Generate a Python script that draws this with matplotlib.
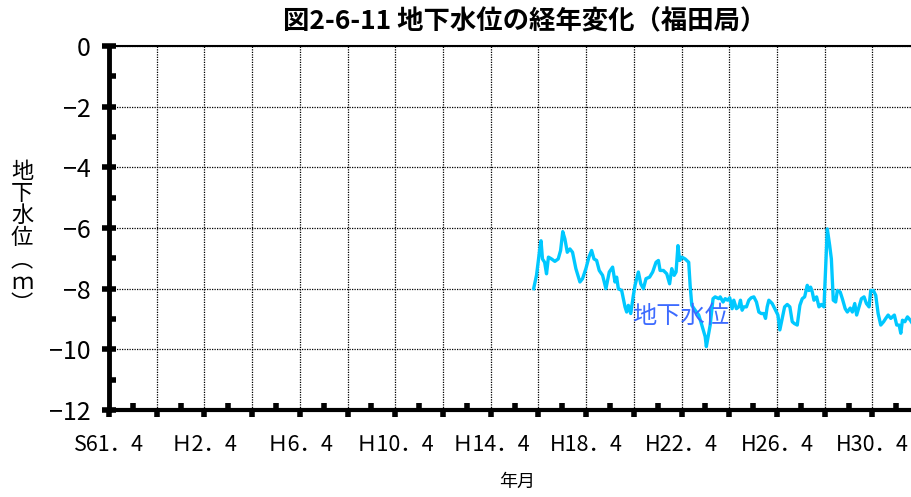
import matplotlib
matplotlib.use("Agg")
import matplotlib.pyplot as plt
import numpy as np

plt.rcParams['font.family'] = ['Noto Sans CJK JP', 'DejaVu Sans']

# 地下水位 (m), x = decimal year
years = [2004.05, 2004.17, 2004.30, 2004.36, 2004.42, 2004.51, 2004.59, 2004.67, 2004.80, 2004.94,
         2005.08, 2005.18, 2005.27, 2005.36, 2005.46, 2005.57, 2005.68, 2005.82, 2005.99, 2006.10,
         2006.24, 2006.37, 2006.48, 2006.58, 2006.69, 2006.80, 2006.94, 2007.08, 2007.22, 2007.36,
         2007.46, 2007.53, 2007.60, 2007.74, 2007.81, 2007.88, 2007.95, 2008.02, 2008.12, 2008.23,
         2008.30, 2008.44, 2008.54, 2008.65, 2008.76, 2008.91, 2009.04, 2009.18, 2009.28, 2009.35,
         2009.49, 2009.63, 2009.75, 2009.84, 2009.94, 2010.02, 2010.10, 2010.17, 2010.26, 2010.40,
         2010.55, 2010.61, 2010.68, 2010.82, 2010.97, 2011.10, 2011.24, 2011.29, 2011.36, 2011.45,
         2011.57, 2011.66, 2011.81, 2011.87, 2011.99, 2012.08, 2012.18, 2012.27, 2012.37, 2012.44,
         2012.55, 2012.65, 2012.72, 2012.79, 2012.86, 2012.97, 2013.07, 2013.17, 2013.28, 2013.39,
         2013.49, 2013.59, 2013.70, 2013.77, 2013.84, 2013.91, 2014.05, 2014.19, 2014.29, 2014.37,
         2014.47, 2014.57, 2014.68, 2014.79, 2014.89, 2014.98, 2015.10, 2015.21, 2015.31, 2015.41,
         2015.52, 2015.59, 2015.66, 2015.73, 2015.80, 2015.91, 2016.01, 2016.11, 2016.22, 2016.29,
         2016.36, 2016.46, 2016.53, 2016.61, 2016.71, 2016.78, 2016.90, 2016.99, 2017.11, 2017.20,
         2017.32, 2017.41, 2017.51, 2017.59, 2017.69, 2017.79, 2017.90, 2018.00, 2018.11, 2018.18,
         2018.29, 2018.39, 2018.49, 2018.60, 2018.72, 2018.81, 2018.91, 2019.02, 2019.17, 2019.27,
         2019.37, 2019.44, 2019.51, 2019.61, 2019.72, 2019.84, 2019.95, 2020.05]
level = [-8.00, -7.56, -6.74, -6.42, -7.02, -7.13, -7.51, -6.96, -7.02, -7.10,
         -7.02, -6.74, -6.12, -6.36, -6.80, -6.69, -6.80, -7.34, -7.78, -7.67,
         -7.34, -6.96, -6.74, -7.02, -7.07, -7.40, -7.56, -8.00, -7.45, -7.29,
         -7.78, -7.62, -8.00, -8.06, -8.33, -8.60, -8.77, -8.55, -8.82, -8.22,
         -7.89, -7.45, -7.84, -8.00, -7.67, -7.62, -7.45, -7.13, -7.07, -7.40,
         -7.40, -7.51, -7.84, -7.34, -7.56, -7.45, -6.58, -7.07, -6.96, -7.02,
         -7.13, -7.89, -8.55, -8.71, -8.87, -9.20, -9.58, -9.91, -9.60, -9.20,
         -8.33, -8.27, -8.33, -8.27, -8.44, -8.33, -8.38, -8.30, -8.66, -8.38,
         -8.66, -8.60, -8.38, -8.71, -8.60, -8.60, -8.38, -8.30, -8.27, -8.44,
         -8.77, -8.82, -8.82, -8.98, -8.60, -8.38, -8.49, -8.71, -8.87, -9.36,
         -8.98, -8.60, -8.52, -8.60, -9.09, -9.15, -9.20, -8.55, -8.33, -8.27,
         -7.89, -8.06, -7.95, -8.11, -8.38, -8.27, -8.60, -8.52, -8.60, -7.34,
         -6.03, -6.58, -7.02, -8.38, -8.44, -8.06, -8.11, -8.33, -8.66, -8.77,
         -8.64, -8.77, -8.49, -8.87, -8.60, -8.33, -8.27, -8.49, -8.60, -8.06,
         -8.06, -8.22, -8.82, -9.20, -9.09, -8.98, -8.87, -8.98, -8.87, -9.20,
         -9.20, -9.47, -9.04, -9.09, -8.93, -9.04, -9.18, -9.25]

tick_years = [1986.25, 1990.25, 1994.25, 1998.25, 2002.25, 2006.25, 2010.25, 2014.25, 2018.25]
tick_labels = ["S61．4", "Ｈ2．4", "Ｈ6．4", "Ｈ10．4", "Ｈ14．4", "H18．4", "H22．4", "H26．4", "H30．4"]

fig = plt.figure(figsize=(9.11, 4.97), dpi=100)
ax = fig.add_axes([109 / 911, 1 - 410 / 497, 1 - 109 / 911 + 0.01, (410 - 46) / 497])

ax.plot(years, level, color="#00C8FF", lw=2.4, zorder=3)
ax.text(2008.2, -8.9, "地下水位", color="#3D6BFF", fontsize=17.5, va="center", ha="left", zorder=4)

ax.set_xlim(1986.25, 1986.25 + 802 / 23.78)
ax.set_ylim(-12, 0)

# x ticks: major every 2 years (labels every 4), minor every year
major_x = np.arange(1986.25, 2021, 2)
ax.set_xticks(major_x)
ax.set_xticklabels([tick_labels[tick_years.index(v)] if v in tick_years else "" for v in major_x])
ax.set_xticks(np.arange(1987.25, 2021, 2), minor=True)
ax.set_yticks(np.arange(-12, 1, 2))
ax.set_yticklabels(["\u221212", "\u221210", "\u22128", "\u22126", "\u22124", "\u22122", "0"])
ax.set_yticks(np.arange(-11, 0, 2), minor=True)

ax.tick_params(axis="x", which="major", direction="out", length=5, width=4, labelsize=15.5, pad=12)
ax.tick_params(axis="x", which="minor", direction="in", length=5, width=4)
ax.tick_params(axis="y", which="major", direction="inout", length=10, width=4, labelsize=18, pad=8)
ax.tick_params(axis="y", which="minor", direction="in", length=5, width=4)

ax.grid(True, which="major", color="black", linestyle=(0, (1, 1)), lw=0.9)

ax.spines["left"].set_linewidth(3.5)
ax.spines["bottom"].set_linewidth(3)
ax.spines["top"].set_linewidth(1.5)
ax.spines["right"].set_visible(False)

fig.text(525 / 911, 1 - 22 / 497, "図2-6-11 地下水位の経年変化（福田局）", ha="center", va="center",
         fontsize=19, fontweight="bold")
fig.text(517 / 911, 1 - 482 / 497, "年月", ha="center", va="center", fontsize=13)
fig.text(22 / 911, 1 - 238 / 497, "地\n下\n水\n位\n︵\nｍ\n︶", ha="center", va="center",
         fontsize=16, linespacing=0.95)

fig.savefig("out.png", dpi=100)
